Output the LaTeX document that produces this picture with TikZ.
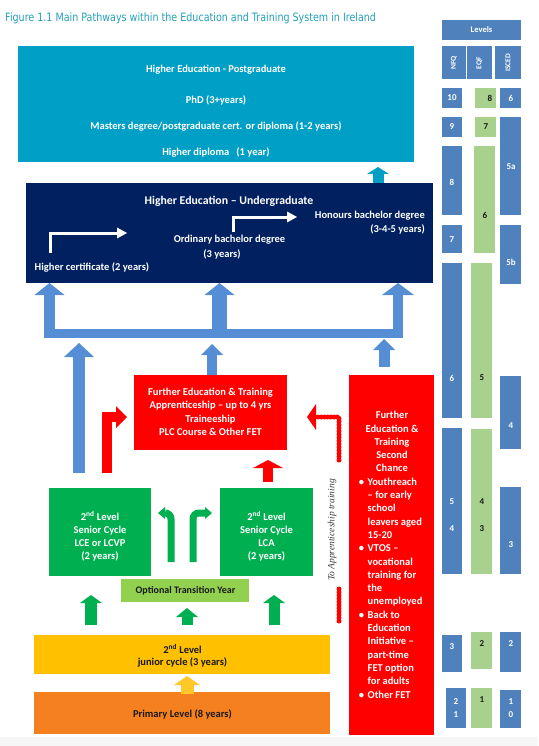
\documentclass[tikz,border=0pt]{standalone}
\usepackage{fontspec}
\setmainfont{Carlito}
\newfontfamily\titlefont{DejaVu Sans}
\newfontfamily\noteserif{Liberation Serif}
\usetikzlibrary{arrows.meta}
\definecolor{pgblue}{RGB}{0,160,198}
\definecolor{ugnavy}{RGB}{0,32,96}
\definecolor{fetred}{RGB}{255,0,0}
\definecolor{slgreen}{RGB}{0,176,80}
\definecolor{tygreen}{RGB}{146,208,80}
\definecolor{jcyellow}{RGB}{255,192,0}
\definecolor{arryellow}{RGB}{255,200,40}
\definecolor{priorange}{RGB}{245,128,32}
\definecolor{arrblue}{RGB}{85,142,213}
\definecolor{lvblue}{RGB}{79,129,189}
\definecolor{lvgreen}{RGB}{169,209,142}
\definecolor{titleteal}{RGB}{35,160,185}
\definecolor{darktext}{RGB}{25,25,25}
\definecolor{bottomgrey}{RGB}{246,246,246}
\begin{document}
\begin{tikzpicture}[x=1pt,y=-1pt,
  box/.style={anchor=north west, inner sep=0pt, outer sep=0pt},
  wtxt/.style={text=white, font=\fontsize{10.5}{12}\selectfont\bfseries, inner sep=0pt},
  dtxt/.style={text=darktext, font=\fontsize{10.5}{12}\selectfont\bfseries, inner sep=0pt},
  lvw/.style={text=white, font=\fontsize{9}{10}\selectfont\bfseries, inner sep=0pt},
  lvd/.style={text=darktext, font=\fontsize{9}{10}\selectfont\bfseries, inner sep=0pt},
  hdr/.style={text=white, font=\fontsize{7.5}{8}\selectfont\bfseries, inner sep=0pt},
  shaft/.style={line width=#1, line cap=butt, line join=miter},
  upar/.style 2 args={-{Triangle[width=#1,length=#2,line width=0pt]}},
  wavy/.style={line width=5pt, line cap=round, dash pattern=on 0pt off 3.2pt},
]
\useasboundingbox (0,0) rectangle (538,746);
\fill[bottomgrey] (0,737) rectangle (538,746);

% title
\node[anchor=base west, inner sep=0pt, text=titleteal] (title) at (5,21.3)
  {\scalebox{0.83}[1]{\titlefont\fontsize{11.5}{13}\selectfont Figure 1.1 Main Pathways within the Education and Training System in Ireland}};

% ---------- boxes ----------
\node[box, fill=pgblue, minimum width=396pt, minimum height=116pt] (pg) at (18,46) {};
\node[box, fill=ugnavy, minimum width=407pt, minimum height=100pt] (ug) at (26,183) {};
\node[box, fill=fetred, minimum width=153pt, minimum height=75pt] (fet) at (134,375) {};
\node[box, fill=fetred, minimum width=85pt, minimum height=360pt] (sc) at (349,375) {};
\node[box, fill=slgreen, minimum width=102pt, minimum height=88pt] (lce) at (49,488) {};
\node[box, fill=slgreen, minimum width=93pt, minimum height=88pt] (lca) at (220,488) {};
\node[box, fill=tygreen, minimum width=128pt, minimum height=23pt] (ty) at (121,579) {};
\node[box, fill=jcyellow, minimum width=296pt, minimum height=39pt] (jc) at (34,635) {};
\node[box, fill=priorange, minimum width=296pt, minimum height=42pt] (pri) at (34,692) {};

% ---------- postgraduate text ----------
\node[wtxt] (pgt1) at (216,70) {Higher Education - Postgraduate};
\node[wtxt] (pgt2) at (216,100) {PhD (3+years)};
\node[wtxt] (pgt3) at (216,126) {Masters degree/postgraduate cert. or diploma (1-2 years)};
\node[wtxt] (pgt4) at (216,152) {Higher diploma\ \ \ (1 year)};

% ---------- undergraduate text ----------
\node[wtxt, font=\fontsize{11.8}{13}\selectfont\bfseries] (ugt1) at (229,201) {Higher Education – Undergraduate};
\node[wtxt, anchor=east] (ugt2) at (425,216) {Honours bachelor degree};
\node[wtxt, anchor=east] (ugt3) at (425,229) {(3-4-5 years)};
\node[wtxt] (ugt4) at (229.5,240) {Ordinary bachelor degree};
\node[wtxt] (ugt5) at (222,254) {(3 years)};
\node[wtxt] (ugt6) at (92,267) {Higher certificate (2 years)};

\coordinate (wa1s) at (50,253); \coordinate (wa1e) at (127,233);
\coordinate (wa2s) at (233,232); \coordinate (wa2e) at (297,217);
\draw[white, line width=3pt, line join=miter, -{Triangle[width=11pt,length=10pt,line width=0pt]}] (wa1s) |- (wa1e);
\draw[white, line width=3pt, line join=miter, -{Triangle[width=11pt,length=10pt,line width=0pt]}] (wa2s) |- (wa2e);

% teal arrow UG -> PG
\coordinate (tealtop) at (378,167);
\draw[pgblue, shaft=11pt, upar={22pt}{7pt}] (ug.north -| tealtop) -- (tealtop);

% ---------- blue trident into UG ----------
\fill[arrblue] (44,329) rectangle (403,338);
\coordinate (tb1) at (49.5,338); \coordinate (tb2) at (219.5,338); \coordinate (tb3) at (398,338);
\draw[arrblue, shaft=11pt, upar={30pt}{12pt}] (tb1) -- (tb1 |- ug.south);
\draw[arrblue, shaft=15pt, upar={30pt}{12pt}] (tb2) -- (tb2 |- ug.south);
\draw[arrblue, shaft=10pt, upar={32pt}{12pt}] (tb3) -- (tb3 |- ug.south);

% lower blue arrows into the bar
\coordinate (bl1s) at (79,473); \coordinate (bl1e) at (79,343);
\coordinate (bl2e) at (212,344);
\coordinate (bl3s) at (384,367); \coordinate (bl3e) at (384,339);
\draw[arrblue, shaft=12pt, upar={30pt}{14pt}] (bl1s) -- (bl1e);
\draw[arrblue, shaft=10pt, upar={22pt}{11pt}] (fet.north -| bl2e) -- (bl2e);
\draw[arrblue, shaft=11pt, upar={22pt}{11pt}] (bl3s) -- (bl3e);

% ---------- FET text ----------
\node[wtxt] (fett1) at (210.5,393) {Further Education \& Training};
\node[wtxt] (fett2) at (210.5,406) {Apprenticeship – up to 4 yrs};
\node[wtxt] (fett3) at (210.5,419.3) {Traineeship};
\node[wtxt] (fett4) at (210.5,432.3) {PLC Course \& Other FET};

% red arrows into FET
\coordinate (rb1s) at (107,473); \coordinate (rb1e) at (127,417);
\draw[fetred, shaft=10pt, -{Triangle[width=22pt,length=11pt,line width=0pt]}] (rb1s) |- (rb1e);
\coordinate (rus) at (268,482); \coordinate (rue) at (268,460);
\draw[fetred, shaft=10pt, upar={30pt}{8pt}] (rus) -- (rue);
\coordinate (rd1) at (339,460); \coordinate (rd2) at (307,417);
\coordinate (rd3) at (339,621); \coordinate (rd4) at (339,589);
\draw[fetred, wavy, -{Triangle[width=26pt,length=9pt,line width=0pt]}] (rd1) |- (rd2);
\draw[fetred, wavy] (rd3) -- (rd4);
\node[rotate=90, inner sep=0pt, text=darktext!85, font=\noteserif\itshape\fontsize{9.5}{11}\selectfont] (apt) at (332,530) {To Apprenticeship training};

% ---------- second chance text ----------
\foreach \tx [count=\i from 0] in {Further,{Education \&},Training,Second,Chance}
  \node[wtxt, anchor=base] (sch\i) at (392,418.7+13.3*\i) {\tx};
\foreach \tx [count=\i from 5] in {Youthreach,{– for early},school,{leavers aged},15-20,{VTOS –},vocational,{training for},the,unemployed,{Back to},Education,{Initiative –},part-time,{FET option},{for adults},{Other FET}}
  \node[wtxt, anchor=base west] (scl\i) at (367.5,418.7+13.3*\i) {\tx};
\foreach \k [count=\i] in {5,10,15,21}
  \node[wtxt, anchor=base] (scb\i) at (361.5,418.7+13.3*\k) {\textbullet};

% ---------- senior cycle ----------
\foreach \tx [count=\i from 0] in {2\textsuperscript{nd} Level,Senior Cycle,LCE or LCVP,(2 years)}
  \node[wtxt, anchor=base] (lcet\i) at (100,520+13.3*\i) {\tx};
\foreach \tx [count=\i from 0] in {2\textsuperscript{nd} Level,Senior Cycle,LCA,(2 years)}
  \node[wtxt, anchor=base] (lcat\i) at (266.5,520+13.3*\i) {\tx};

% green bent arrows
\coordinate (g1s) at (171,562); \coordinate (g1c) at (171,513); \coordinate (g1e) at (158,513);
\coordinate (g2s) at (193,562); \coordinate (g2c) at (193,513); \coordinate (g2e) at (212,513);
\draw[slgreen, line width=7pt, rounded corners=6pt, -{Triangle[width=12pt,length=7pt,line width=0pt]}] (g1s) -- (g1c) -- (g1e);
\draw[slgreen, line width=7pt, rounded corners=6pt, -{Triangle[width=12pt,length=7pt,line width=0pt]}] (g2s) -- (g2c) -- (g2e);

% transition year
\node[dtxt, font=\fontsize{10}{12}\selectfont\bfseries] (tyt) at (185.5,590.5) {Optional Transition Year};

% green up arrows
\coordinate (ga1s) at (91,625); \coordinate (ga1e) at (91,595);
\coordinate (ga2s) at (187,625); \coordinate (ga2e) at (187,608);
\coordinate (ga3s) at (274,625); \coordinate (ga3e) at (274,595);
\draw[slgreen, shaft=12pt, upar={22pt}{8pt}] (ga1s) -- (ga1e);
\draw[slgreen, shaft=11pt, upar={22pt}{9pt}] (ga2s) -- (ga2e);
\draw[slgreen, shaft=11pt, upar={22pt}{8pt}] (ga3s) -- (ga3e);

% junior cycle & primary
\node[dtxt] (jct1) at (182.5,649) {2\textsuperscript{nd} Level};
\node[dtxt] (jct2) at (182.5,662) {junior cycle (3 years)};
\coordinate (yas) at (187,694); \coordinate (yae) at (187,676);
\draw[arryellow, shaft=13pt, upar={26pt}{9pt}] (yas) -- (yae);
\node[dtxt] (prit) at (182.5,714) {Primary Level (8 years)};

% ---------- levels columns ----------
\foreach \xa/\ya/\xb/\yb/\cc in {
 442/88/462/108/lvblue, 442/117/462/137/lvblue, 442/146/462/215/lvblue, 442/225/462/253/lvblue,
 442/263/462/418/lvblue, 442/428/462/574/lvblue, 442/635/462/672/lvblue, 446/688/466/728/lvblue,
 475/88/496/108/lvgreen, 475/117/496/137/lvgreen, 474/146/495/253/lvgreen, 471/263/492/418/lvgreen,
 471/429/492/574/lvgreen, 471/632/492/669/lvgreen, 471/688/492/728/lvgreen,
 500/88/521/108/lvblue, 500/117/521/215/lvblue, 500/225/521/284/lvblue, 500/376/521/449/lvblue,
 500/487/521/574/lvblue, 500/632/521/672/lvblue, 500/690/521/728/lvblue,
 442/20/521/40/lvblue, 442/46/466/79/lvblue, 467/46/492/79/lvblue, 495/46/521/79/lvblue}
  \fill[\cc] (\xa,\ya) rectangle (\xb,\yb);

\node[hdr, font=\fontsize{8.5}{9}\selectfont\bfseries] (levt) at (481.5,30) {Levels};
\node[hdr, rotate=90] (hnfq) at (454,63) {NFQ};
\node[hdr, rotate=90] (heqf) at (479.5,63) {EQF};
\node[hdr, rotate=90] (hisc) at (508,63) {ISCED};

\foreach \xx/\yy/\tx [count=\i] in {452/98/10, 452/127/9, 452/182/8, 452/240/7, 452/378/6, 452/502/5, 452/529/4, 452/647/3, 456/702/2, 456/715/1,
 511/98/6, 511/167/5a, 511/262/5b, 511/426/4, 511/545/3, 511/644/2, 511/702/1, 511/715/0}
  \node[lvw] (lvn\i) at (\xx,\yy) {\tx};
\foreach \xx/\yy/\tx [count=\i] in {490/98/8, 486/127/7, 485/215/6, 482/378/5, 482/502/4, 482/529/3, 482/644/2, 482/700/1}
  \node[lvd] (lve\i) at (\xx,\yy) {\tx};
\end{tikzpicture}
\end{document}
